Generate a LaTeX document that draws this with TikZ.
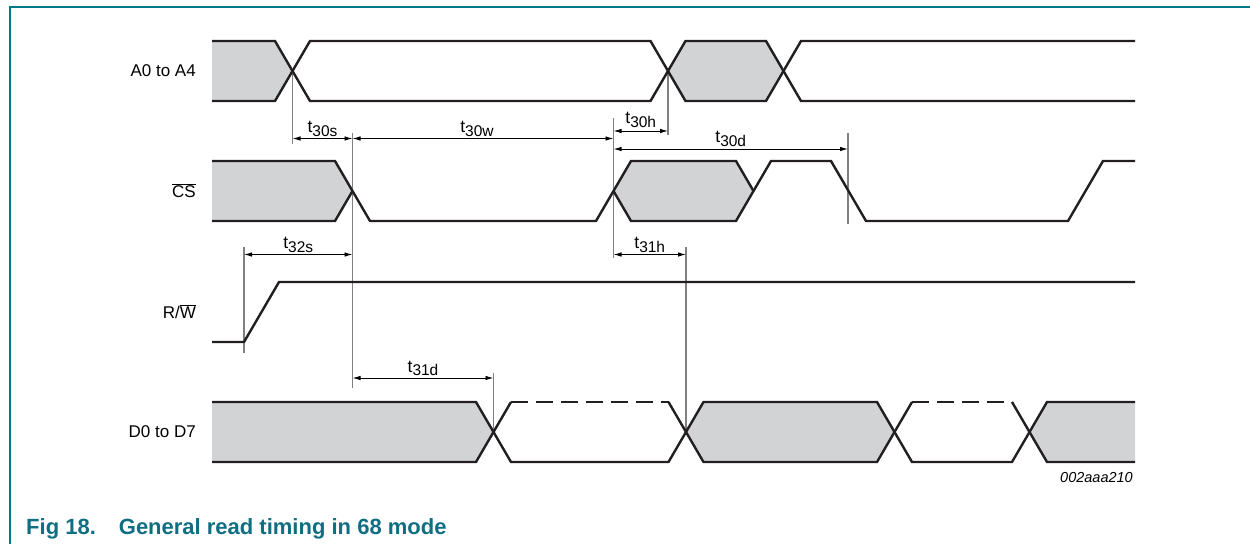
\documentclass[tikz,border=0pt]{standalone}
\usepackage{fontspec}
\setmainfont{Liberation Sans}
\usetikzlibrary{arrows.meta}
\definecolor{framec}{RGB}{0,120,140}
\definecolor{capc}{RGB}{16,110,130}
\definecolor{sig}{RGB}{35,31,32}
\definecolor{fillg}{RGB}{209,211,212}
\definecolor{guidec}{RGB}{128,128,128}
\newcommand{\tmark}[1]{t\raisebox{-3.5pt}{\fontsize{15.5}{15.5}\selectfont #1}}
\begin{document}
\begin{tikzpicture}[x=1pt,y=-1pt,
  sigline/.style={draw=sig,line width=2.4pt,line join=miter},
  grayfill/.style={fill=fillg,draw=none},
  guide/.style={draw=guidec,line width=1.1pt},
  dim/.style={draw=black,line width=0.9pt,{Latex[length=8pt,width=4.5pt]}-{Latex[length=8pt,width=4.5pt]}},
  siglabel/.style={anchor=east,inner sep=0pt,font=\fontsize{17}{17}\selectfont},
  tlabel/.style={anchor=south,inner sep=0pt,font=\fontsize{17.5}{17.5}\selectfont},
]
\useasboundingbox (0,0) rectangle (1250,544);
% frame
\draw[framec,line width=1.5pt] (10,544) -- (10,7) -- (1250,7);

% ---------- fills ----------
\fill[grayfill] (212,41) -- (275,41) -- (292.5,71) -- (275,101) -- (212,101) -- cycle;
\fill[grayfill] (668,71) -- (685.5,41) -- (766,41) -- (783.5,71) -- (766,101) -- (685.5,101) -- cycle;
\fill[grayfill] (212,161) -- (335,161) -- (352.5,191) -- (335,221) -- (212,221) -- cycle;
\fill[grayfill] (613.5,191) -- (631,161) -- (736,161) -- (753.5,191) -- (736,221) -- (631,221) -- cycle;
\fill[grayfill] (212,402) -- (476,402) -- (493.5,432) -- (476,462) -- (212,462) -- cycle;
\fill[grayfill] (686,432) -- (703.5,402) -- (877,402) -- (894.5,432) -- (877,462) -- (703.5,462) -- cycle;
\fill[grayfill] (1029.5,432) -- (1047,402) -- (1135,402) -- (1135,462) -- (1047,462) -- cycle;

% ---------- guide lines ----------
\coordinate (g1t) at (292.5,71);  \coordinate (g1b) at (292.5,144);
\coordinate (g2t) at (352.5,133); \coordinate (g2b) at (352.5,388);
\coordinate (g3t) at (613.5,118); \coordinate (g3b) at (613.5,258);
\coordinate (g4t) at (668,71);    \coordinate (g4b) at (668,135);
\coordinate (g5t) at (848,133);   \coordinate (g5b) at (848,224);
\coordinate (g6t) at (244,247);   \coordinate (g6b) at (244,353);
\coordinate (g7t) at (493.5,373); \coordinate (g7b) at (493.5,432);
\coordinate (g8t) at (686,247);   \coordinate (g8b) at (686,432);
\foreach \g in {1,...,8} {\draw[guide] (g\g t) -- (g\g b);}

% ---------- signals ----------
% A0 to A4
\draw[sigline] (212,41) -- (275,41) -- (310,101) -- (650.5,101) -- (685.5,41) -- (766,41) -- (801,101) -- (1135,101);
\draw[sigline] (212,101) -- (275,101) -- (310,41) -- (650.5,41) -- (685.5,101) -- (766,101) -- (801,41) -- (1135,41);
% CS
\draw[sigline] (212,161) -- (335,161) -- (370,221) -- (596,221) -- (631,161) -- (736,161) -- (753.5,191);
\draw[sigline] (212,221) -- (335,221) -- (352.5,191);
\draw[sigline] (613.5,191) -- (631,221) -- (736,221) -- (771,161) -- (831,161) -- (866,221) -- (1068,221) -- (1103,161) -- (1135,161);
% R/W
\draw[sigline] (212,342) -- (244,342) -- (279,282) -- (1135,282);
% D0 to D7
\draw[sigline] (212,402) -- (476,402) -- (511,462) -- (668.5,462) -- (703.5,402) -- (877,402) -- (912,462) -- (1012,462) -- (1047,402) -- (1135,402);
\draw[sigline] (212,462) -- (476,462) -- (511,402);
\draw[sigline,dash pattern=on 17pt off 8pt] (511,402) -- (668.5,402);
\draw[sigline] (668.5,402) -- (703.5,462) -- (877,462) -- (912,402);
\draw[sigline,dash pattern=on 17pt off 8pt] (912,402) -- (1012,402);
\draw[sigline] (1012,402) -- (1047,462) -- (1135,462);

% ---------- dimension arrows ----------
\coordinate (s30a) at (292.5,138.5); \coordinate (s30b) at (352.5,138.5);
\coordinate (w30a) at (352.5,138.5); \coordinate (w30b) at (613.5,138.5);
\coordinate (h30a) at (613.5,131);   \coordinate (h30b) at (668,131);
\coordinate (d30a) at (613.5,149);   \coordinate (d30b) at (848,149);
\coordinate (s32a) at (244,254.5);   \coordinate (s32b) at (352.5,254.5);
\coordinate (h31a) at (613.5,254.5); \coordinate (h31b) at (686,254.5);
\coordinate (d31a) at (352.5,378);   \coordinate (d31b) at (493.5,378);

\draw[dim] (s30a) -- node[tlabel,yshift=1.5pt] (ls30) {\tmark{30s}} (s30b);
\draw[dim] (w30a) -- node[tlabel,yshift=1.5pt,xshift=-6pt] (lw30) {\tmark{30w}} (w30b);
\draw[dim] (h30a) -- node[tlabel,yshift=3pt] (lh30) {\tmark{30h}} (h30b);
\draw[dim] (d30a) -- node[tlabel,yshift=2pt] (ld30) {\tmark{30d}} (d30b);
\draw[dim] (s32a) -- node[tlabel,yshift=1.5pt] (ls32) {\tmark{32s}} (s32b);
\draw[dim] (h31a) -- node[tlabel,yshift=1.5pt] (lh31) {\tmark{31h}} (h31b);
\draw[dim] (d31a) -- node[tlabel,yshift=1.5pt] (ld31) {\tmark{31d}} (d31b);

% ---------- labels ----------
\node[siglabel] (la) at (196,71) {A0 to A4};
\node[siglabel] (lcs) at (196,191) {$\overline{\mbox{CS}}$};
\node[siglabel] (lrw) at (196,312) {R/$\overline{\mbox{W}}$};
\node[siglabel] (ld) at (196,432) {D0 to D7};
\node[anchor=east,inner sep=0pt,font=\fontsize{14.5}{14.5}\selectfont\itshape] (code) at (1133,478) {002aaa210};
\node[anchor=base west,inner sep=0pt,text=capc,font=\fontsize{22}{22}\selectfont\bfseries] (cap) at (26,534) {Fig 18.\hspace{23pt}General read timing in 68 mode};
\end{tikzpicture}
\end{document}
